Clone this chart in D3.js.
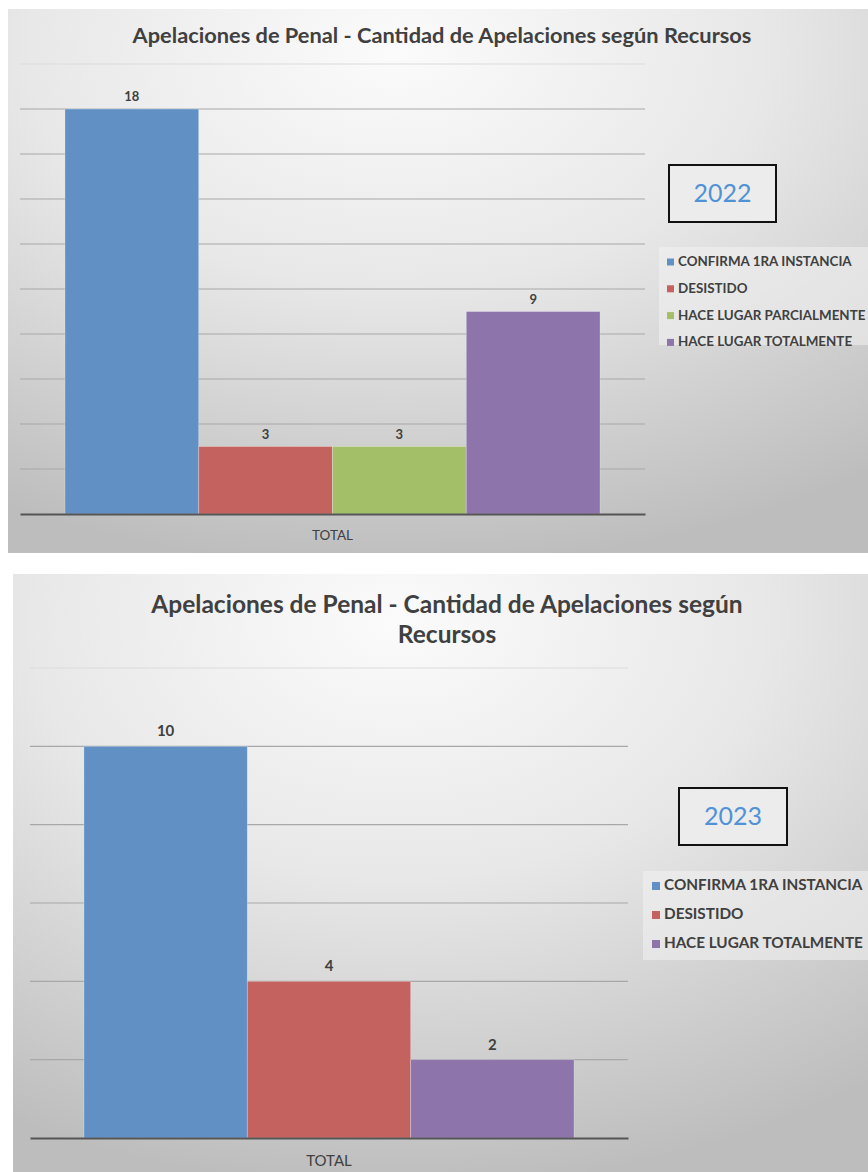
<!DOCTYPE html>
<html><head><meta charset="utf-8">
<script src="https://cdn.jsdelivr.net/npm/d3@7"></script>
<style>
html,body{margin:0;padding:0;background:#fff;}
svg{display:block;}
text{font-family:Lato,"Noto Sans",sans-serif;}
</style></head>
<body>
<script>
// ---- DATA ----
const title = "Apelaciones de Penal - Cantidad de Apelaciones según Recursos";
const groupLabel = "TOTAL";
const categories2022 = ["CONFIRMA 1RA INSTANCIA","DESISTIDO","HACE LUGAR PARCIALMENTE","HACE LUGAR TOTALMENTE"];
const values2022 = [18, 3, 3, 9];
const ticks2022 = [0,2,4,6,8,10,12,14,16,18,20];
const categories2023 = ["CONFIRMA 1RA INSTANCIA","DESISTIDO","HACE LUGAR TOTALMENTE"];
const values2023 = [10, 4, 2];
const ticks2023 = [0,2,4,6,8,10,12];
const colorOf = {
  "CONFIRMA 1RA INSTANCIA":"#6190c5",
  "DESISTIDO":"#c4625f",
  "HACE LUGAR PARCIALMENTE":"#a3bf67",
  "HACE LUGAR TOTALMENTE":"#8d74ab"
};

const svg = d3.select("body").append("svg").attr("width",868).attr("height",1172);
const defs = svg.append("defs");
const grad = defs.append("radialGradient").attr("id","bg").attr("cx","0.45").attr("cy","0.08").attr("r","0.95").attr("fx","0.45").attr("fy","0.08");
grad.append("stop").attr("offset","0").attr("stop-color","#fbfbfb");
grad.append("stop").attr("offset","0.45").attr("stop-color","#e8e8e8");
grad.append("stop").attr("offset","1").attr("stop-color","#bdbdbd");

function chart(cfg){
  const g = svg.append("g");
  g.append("rect").attr("x",cfg.panel[0]).attr("y",cfg.panel[1]).attr("width",cfg.panel[2]).attr("height",cfg.panel[3]).attr("fill","url(#bg)");
  // title
  const t = g.append("text").attr("text-anchor","middle").attr("font-weight","bold").attr("font-size",cfg.titleSize).attr("fill","#404040");
  cfg.titleLines.forEach((ln,i)=>{
    t.append("tspan").attr("x",cfg.titleX).attr("y",cfg.titleY + i*cfg.titleLead).text(ln);
  });
  const y = d3.scaleLinear().domain([0,d3.max(cfg.ticks)]).range([cfg.base,cfg.top]);
  const x0 = d3.scaleBand().domain([groupLabel]).range([cfg.left,cfg.right]).paddingInner(0).paddingOuter(cfg.pad);
  const x1 = d3.scaleBand().domain(cfg.cats).range([0,x0.bandwidth()]).padding(0);
  // gridlines
  g.append("g").selectAll("line").data(cfg.ticks.filter(d=>d>0)).join("line")
    .attr("x1",cfg.left).attr("x2",cfg.right)
    .attr("y1",d=>y(d)).attr("y2",d=>y(d))
    .attr("stroke",d=>d===d3.max(cfg.ticks)?"#dcdcdc":"#a8a8a8").attr("stroke-width",1.1);
  // bars
  const bx = x0(groupLabel);
  g.append("g").selectAll("rect").data(cfg.cats.map((c,i)=>({c,v:cfg.vals[i]}))).join("rect")
    .attr("x",d=>bx+x1(d.c)).attr("width",x1.bandwidth())
    .attr("y",d=>y(d.v)).attr("height",d=>y(0)-y(d.v))
    .attr("fill",d=>colorOf[d.c]).attr("stroke","rgba(255,255,255,0.35)").attr("stroke-width",0.8);
  // value labels
  g.append("g").selectAll("text").data(cfg.cats.map((c,i)=>({c,v:cfg.vals[i]}))).join("text")
    .attr("x",d=>bx+x1(d.c)+x1.bandwidth()/2).attr("y",d=>y(d.v)-cfg.labelGap)
    .attr("text-anchor","middle").attr("font-size",cfg.labelSize).attr("font-weight","bold").attr("fill","#404040")
    .text(d=>d.v);
  // baseline axis
  const ax = g.append("g").attr("transform",`translate(0,${cfg.base})`).call(d3.axisBottom(x0).tickSize(0).tickPadding(cfg.catPad));
  ax.select(".domain").attr("stroke","#555").attr("stroke-width",2.2);
  ax.selectAll("text").attr("font-size",cfg.catSize).attr("fill","#404040").attr("font-family","Lato,sans-serif");
  // year box
  g.append("rect").attr("x",cfg.yearBox[0]).attr("y",cfg.yearBox[1]).attr("width",cfg.yearBox[2]).attr("height",cfg.yearBox[3])
    .attr("fill","#ececec").attr("stroke","#111").attr("stroke-width",2);
  g.append("text").attr("x",cfg.yearBox[0]+cfg.yearBox[2]/2).attr("y",cfg.yearBox[1]+cfg.yearBox[3]/2+8.5)
    .attr("text-anchor","middle").attr("font-size",25).attr("fill","#4f93d6").text(cfg.year);
  // legend
  g.append("rect").attr("x",cfg.legBox[0]).attr("y",cfg.legBox[1]).attr("width",cfg.legBox[2]).attr("height",cfg.legBox[3])
    .attr("fill","#f2f2f2").attr("opacity",0.55);
  const lg = g.append("g").selectAll("g").data(cfg.cats).join("g")
    .attr("transform",(d,i)=>`translate(${cfg.legX},${cfg.legY+i*cfg.legStep})`);
  lg.append("rect").attr("x",0).attr("y",-cfg.legSq/2-4).attr("width",cfg.legSq).attr("height",cfg.legSq).attr("fill",d=>colorOf[d]);
  lg.append("text").attr("x",cfg.legSq+4).attr("y",0).attr("font-size",cfg.legSize).attr("font-weight","bold").attr("fill","#404040").text(d=>d);
}

chart({
  panel:[8,9,860,544], titleLines:[title], titleX:442, titleY:43, titleSize:21.8, titleLead:0,
  ticks:ticks2022, cats:categories2022, vals:values2022,
  base:514, top:64, left:20, right:645, pad:0.084,
  labelGap:8, labelSize:13, catPad:16, catSize:13.5,
  year:"2022", yearBox:[669,165,107,57],
  legBox:[659,247,209,98], legX:667, legY:266, legStep:26.8, legSq:7, legSize:13.4
});
chart({
  panel:[13,574,855,598], titleLines:["Apelaciones de Penal - Cantidad de Apelaciones según","Recursos"], titleX:447, titleY:613, titleSize:24.5, titleLead:30,
  ticks:ticks2023, cats:categories2023, vals:values2023,
  base:1138, top:668, left:30, right:628, pad:0.11,
  labelGap:10, labelSize:15, catPad:17, catSize:15,
  year:"2023", yearBox:[679,788,108,57],
  legBox:[643,871,225,89], legX:652, legY:890, legStep:29, legSq:8, legSize:15.3
});
</script>
</body></html>
